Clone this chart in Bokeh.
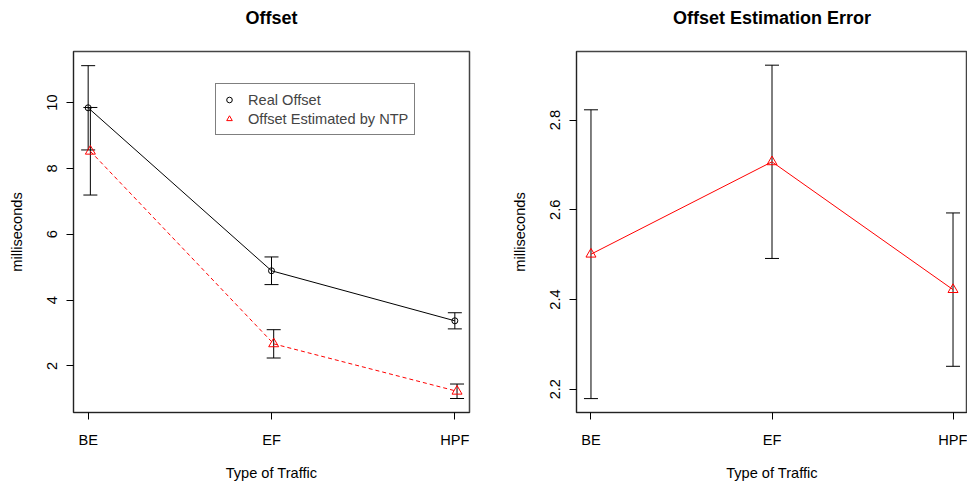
import numpy as np
from bokeh.plotting import figure
from bokeh.layouts import row
from bokeh.models import (Range1d, FixedTicker, Whisker, TeeHead, ColumnDataSource,
                          Legend, LegendItem, Title)
from bokeh.embed import file_html
from bokeh.resources import INLINE

# ---- data ----
categories = ["BE", "EF", "HPF"]
real_offset = [9.84, 4.89, 3.37]
real_offset_err = [1.28, 0.42, 0.245]
ntp_offset = [8.52, 2.67, 1.23]
ntp_offset_err = [1.33, 0.43, 0.22]
est_error = [2.501, 2.707, 2.422]
est_error_err = [0.322, 0.2155, 0.171]
left_yticks = [2, 4, 6, 8, 10]
right_yticks = [2.2, 2.4, 2.6, 2.8]

FONT = "Liberation Sans"
xpos = np.arange(1, len(categories) + 1, dtype=float)
dodge = 0.012


def style(p, yticks):
    p.grid.visible = False
    p.outline_line_color = "#444444"
    p.outline_line_width = 1.5
    p.background_fill_color = "white"
    p.border_fill_color = "white"
    p.title.align = "center"
    p.title.text_font = FONT
    p.title.text_font_size = "18px"
    p.title.text_font_style = "bold"
    p.title.text_color = "black"
    p.title.standoff = 10
    # spacer between title and frame
    p.add_layout(Title(text=" ", text_font_size="1px", standoff=16), "above")
    for ax in (p.xaxis[0], p.yaxis[0]):
        ax.axis_line_color = "#222222"
        ax.axis_line_width = 1
        ax.major_tick_out = 7
        ax.major_tick_in = 0
        ax.minor_tick_line_color = None
        ax.major_label_text_font = FONT
        ax.major_label_text_font_size = "14.6px"
        ax.major_label_text_color = "black"
        ax.axis_label_text_font = FONT
        ax.axis_label_text_font_size = "14.6px"
        ax.axis_label_text_font_style = "normal"
        ax.axis_label_text_color = "black"
    p.xaxis.ticker = FixedTicker(ticks=list(xpos))
    p.xaxis.major_label_overrides = {float(x): c for x, c in zip(xpos, categories)}
    p.xaxis.major_label_overrides.update({int(x): c for x, c in zip(xpos, categories)})
    p.xaxis.axis_label = "Type of Traffic"
    p.xaxis.major_label_standoff = 12
    p.xaxis.axis_label_standoff = 14
    p.yaxis.ticker = FixedTicker(ticks=yticks)
    p.yaxis.major_label_orientation = "vertical"
    p.yaxis.major_label_standoff = 9
    p.yaxis.axis_label = "milliseconds"
    p.yaxis.axis_label_standoff = 20


# ---- left panel ----
p1 = figure(width=508, height=485, title="Offset",
            x_range=Range1d(0.92, 3.08), y_range=Range1d(0.585, 11.55),
            output_backend="svg", toolbar_location=None,
            min_border_left=73, min_border_right=39,
            min_border_top=50, min_border_bottom=73)
style(p1, left_yticks)

real = np.array(real_offset)
rerr = np.array(real_offset_err)
ntp = np.array(ntp_offset)
nerr = np.array(ntp_offset_err)

src_real = ColumnDataSource(dict(x=xpos, y=real, lo=real - rerr, hi=real + rerr))
src_ntp = ColumnDataSource(dict(x=xpos + dodge, y=ntp, lo=ntp - nerr, hi=ntp + nerr))

p1.line("x", "y", source=src_real, line_color="black", line_width=1)
p1.line("x", "y", source=src_ntp, line_color="red", line_width=1, line_dash="4 3")
for s in (src_real, src_ntp):
    p1.add_layout(Whisker(base="x", upper="hi", lower="lo", source=s,
                          line_color="black", line_width=1,
                          upper_head=TeeHead(size=14, line_color="black", line_width=1),
                          lower_head=TeeHead(size=14, line_color="black", line_width=1)))
r_circ = p1.scatter("x", "y", source=src_real, marker="circle", size=6,
                    fill_alpha=0, line_color="black", line_width=1)
r_tri = p1.scatter("x", "y", source=src_ntp, marker="triangle", size=10,
                   fill_alpha=0, line_color="red", line_width=1)

legend = Legend(items=[LegendItem(label="Real Offset", renderers=[r_circ]),
                       LegendItem(label="Offset Estimated by NTP", renderers=[r_tri])],
                location=(142, 277), orientation="vertical",
                border_line_color="black", border_line_width=1,
                background_fill_color="white", background_fill_alpha=1,
                label_text_font=FONT, label_text_font_size="14.6px",
                padding=6, spacing=0, margin=0,
                glyph_width=14, glyph_height=19, label_height=19,
                label_standoff=12)
p1.add_layout(legend)

# ---- right panel ----
p2 = figure(width=459, height=485, title="Offset Estimation Error",
            x_range=Range1d(0.92, 3.08), y_range=Range1d(2.148, 2.953),
            output_backend="svg", toolbar_location=None,
            min_border_left=66, min_border_right=0,
            min_border_top=50, min_border_bottom=73)
style(p2, right_yticks)
p2.yaxis.major_label_overrides = {t: f"{t:.1f}" for t in right_yticks}

est = np.array(est_error)
eerr = np.array(est_error_err)
src_est = ColumnDataSource(dict(x=xpos, y=est, lo=est - eerr, hi=est + eerr))
p2.line("x", "y", source=src_est, line_color="red", line_width=1)
p2.add_layout(Whisker(base="x", upper="hi", lower="lo", source=src_est,
                      line_color="black", line_width=1,
                      upper_head=TeeHead(size=14, line_color="black", line_width=1),
                      lower_head=TeeHead(size=14, line_color="black", line_width=1)))
p2.scatter("x", "y", source=src_est, marker="triangle", size=10,
           fill_alpha=0, line_color="red", line_width=1)

layout = row(p1, p2, spacing=0)
open("out.html", "w").write(file_html(layout, INLINE))
